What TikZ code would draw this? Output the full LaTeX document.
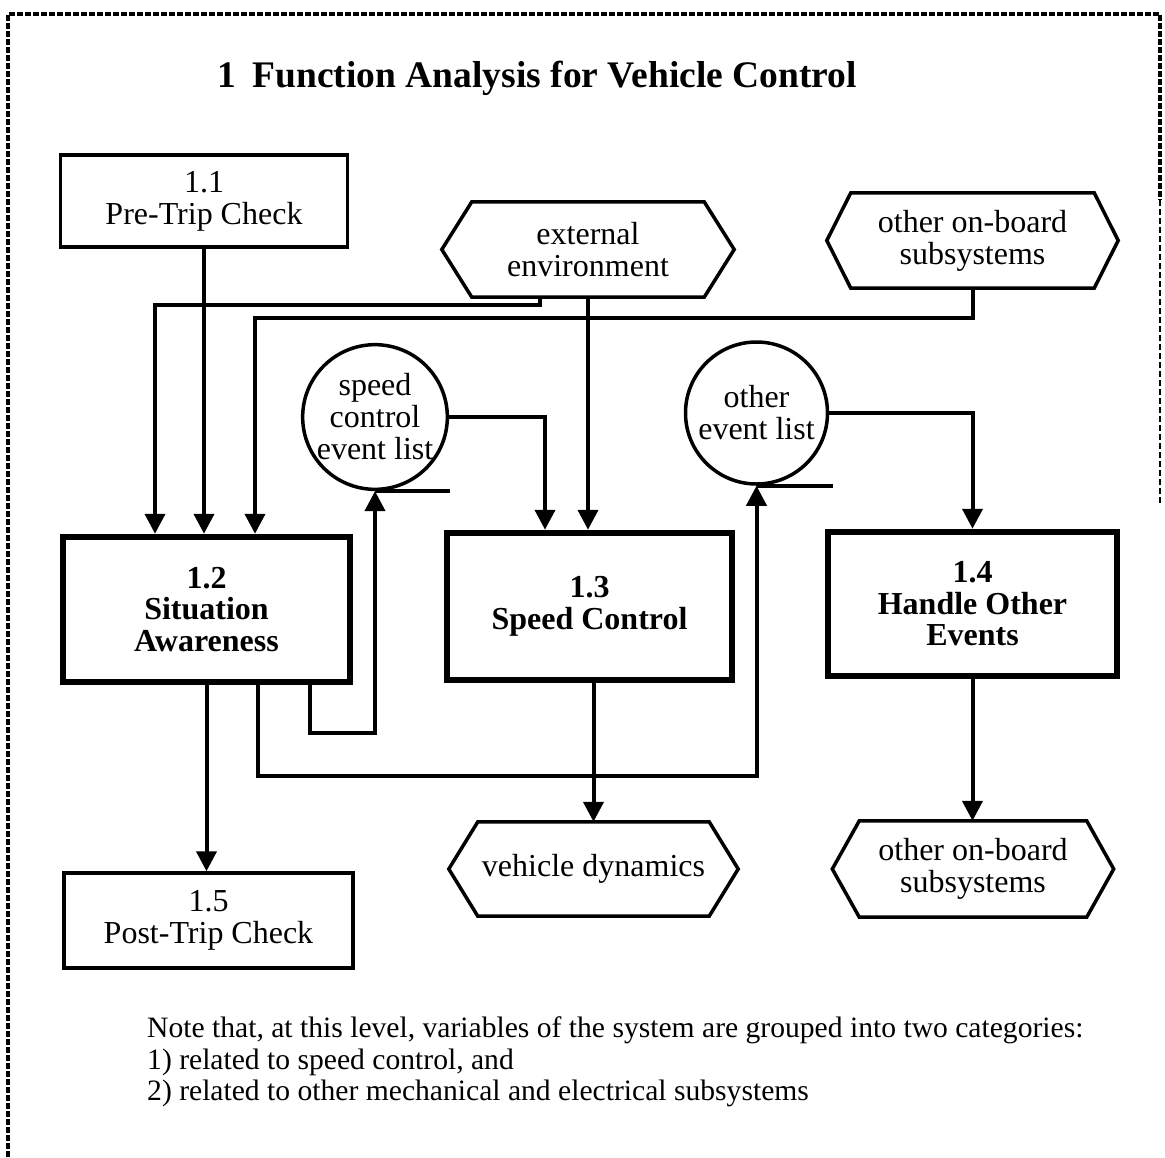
\documentclass[tikz,border=0pt]{standalone}
\usepackage{fontspec}
\setmainfont{Liberation Serif}
\usetikzlibrary{arrows.meta,calc}

\begin{document}
\begin{tikzpicture}[x=1pt,y=-1pt,
  txt/.style={font=\fontsize{32}{32}\selectfont, align=center, inner sep=0pt},
  btxt/.style={font=\fontsize{32}{31.5}\selectfont\bfseries, align=center, inner sep=0pt},
  thinbox/.style={txt, draw, line width=3.5pt, minimum width=#1},
  thickbox/.style={btxt, draw, line width=6.5pt, minimum width=#1},
  hexnode/.style={txt, minimum width=#1},
  store/.style={txt, draw, circle, line width=3.5pt, minimum size=#1},
  hexline/.style={line width=3.5pt, line join=miter},
  flow/.style={line width=4pt, -{Triangle[length=20pt,width=20pt]}},
  plain/.style={line width=3.5pt},
]
\useasboundingbox (0,0) rectangle (1165,1157);

% dashed frame
\draw[line width=3.5pt, dash pattern=on 6pt off 2pt] (8,1157) -- (8,14) -- (1160,14) -- (1160,200);
\draw[line width=1.5pt, dash pattern=on 6pt off 3pt] (1160,200) -- (1160,505);

% title
\node[font=\fontsize{37.5}{40}\selectfont\bfseries, inner sep=0pt] (title) at (537,78) {1\hspace{0.45em}Function Analysis for Vehicle Control};

% process boxes
\node[thinbox=287pt, minimum height=92pt] (pre) at (204,201) {1.1\\Pre-Trip Check};
\node[thickbox=287pt, minimum height=145pt] (sa) at (206.5,609.5) {1.2\\Situation\\Awareness};
\node[thickbox=285pt, minimum height=147pt] (sc) at (589.5,606.5) {1.3\\Speed Control};
\node[thickbox=289pt, minimum height=144pt] (ho) at (972.5,604) {1.4\\Handle Other\\Events};
\node[thinbox=289pt, minimum height=95pt] (post) at (208.5,920.5) {1.5\\Post-Trip Check};

% external entities (hexagons)
\node[hexnode=232pt, minimum height=95pt] (env) at (588,249.5) {external\\environment};
\node[hexnode=243pt, minimum height=95pt] (obt) at (972.5,240.5) {other on-board\\subsystems};
\node[hexnode=231pt, minimum height=94pt] (vd) at (593.5,869) {vehicle dynamics};
\node[hexnode=227pt, minimum height=96pt] (obb) at (973,869) {other on-board\\subsystems};
\foreach \n/\d in {env/30, obt/24, vd/29, obb/27}{
  \draw[hexline] (\n.north west) -- (\n.north east) -- ([xshift=\d]\n.east)
    -- (\n.south east) -- (\n.south west) -- ([xshift=-\d]\n.west) -- cycle;
}

% event stores
\node[store=140pt] (scl) at (375,417) {speed\\control\\event list};
\node[store=142pt] (oel) at (756.5,413) {other\\event list};
\draw[plain] (scl.south) -- ++(75,0);
\draw[plain] (oel.south) -- ++(76,0);

% inputs to situation awareness
\draw[flow] (pre.south) -- (pre.south |- sa.north);
\draw[flow] ([xshift=-48]env.south) -- ++(0,8) -| ([xshift=-51.5]sa.north);
\draw[flow] (obt.south) -- ++(0,30) -| ([xshift=48.5]sa.north);

% inputs to speed control and other events
\draw[flow] (env.south) -- (env.south |- sc.north);
\draw[flow] (scl.east) -| ([xshift=-44.5]sc.north);
\draw[flow] (oel.east) -| (ho.north);

% situation awareness outputs
\draw[flow] ([xshift=103.5]sa.south) -- ++(0,48) -| (scl.south);
\draw[flow] ([xshift=51.5]sa.south) -- ++(0,91) -| (oel.south);
\draw[flow] (sa.south) -- (sa.south |- post.north);

% outputs to the environment
\draw[flow] (vd.north |- sc.south) -- (vd.north);
\draw[flow] (ho.south) -- (ho.south |- obb.north);

% note
\node[font=\fontsize{29.6}{31.5}\selectfont, align=left, inner sep=0pt, anchor=west] (note) at (147,1062)
  {Note that, at this level, variables of the system are grouped into two categories:\\
   1) related to speed control, and\\
   2) related to other mechanical and electrical subsystems};
\end{tikzpicture}
\end{document}
